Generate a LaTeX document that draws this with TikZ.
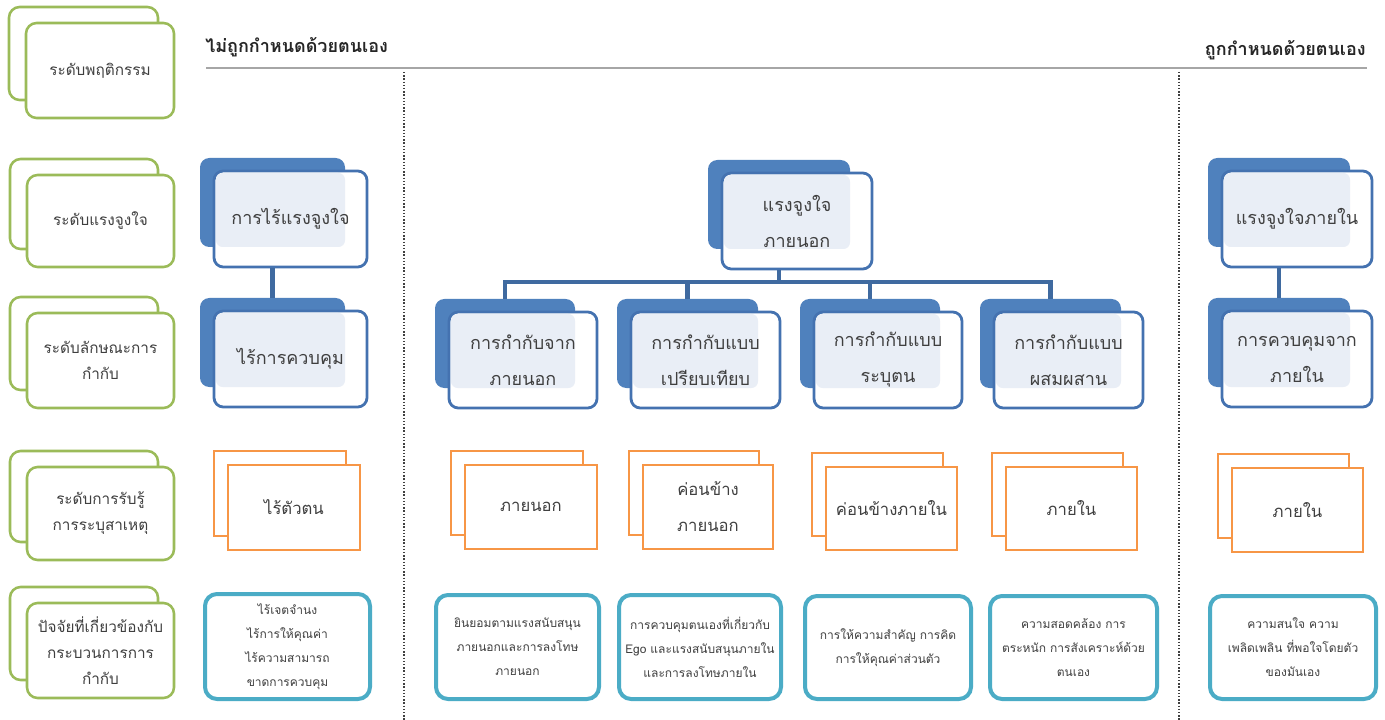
\documentclass[tikz,border=0pt]{standalone}
\usepackage{fontspec}
\newfontfamily\thai[Script=Thai]{Loma}
\usetikzlibrary{fit}
\definecolor{grn}{HTML}{9BBB59}
\definecolor{bdark}{HTML}{4F81BD}
\definecolor{bline}{HTML}{4472B0}
\definecolor{blight}{HTML}{E9EEF6}
\definecolor{conn}{HTML}{3F6AA0}
\definecolor{org}{HTML}{F79646}
\definecolor{teal}{HTML}{4BACC6}
\definecolor{txt}{HTML}{3F3F3F}
\definecolor{hline}{HTML}{A6A6A6}
\tikzset{
  gbox/.style={draw=grn, line width=1.9pt, rounded corners=8pt, fill=white, inner sep=0pt},
  bback/.style={fill=bdark, rounded corners=7pt, inner sep=0pt},
  bfront/.style={draw=bline, line width=2.1pt, rounded corners=7pt, fill=white, inner sep=0pt},
  obox/.style={draw=org, line width=2.1pt, fill=white, inner sep=0pt},
  tbox/.style={draw=teal, line width=3pt, rounded corners=9pt, fill=white, inner sep=0pt},
  gtext/.style={text=txt, align=center, font=\thai\fontsize{11.5}{19.5}\selectfont},
  btext/.style={text=txt, align=center, font=\thai\fontsize{13.5}{27}\selectfont},
  otext/.style={text=txt, align=center, font=\thai\fontsize{12.5}{27}\selectfont},
  ttext/.style={text=txt, align=center, font=\thai\fontsize{9}{18}\selectfont},
  connector/.style={draw=conn, line width=3.2pt},
  divider/.style={draw=black!75, line width=1.2pt, dash pattern=on 1.1pt off 1.3pt},
}
% green label pair: name, x1, y1, x2, y2 (front), text
\newcommand\gpair[6]{%
  \node[gbox, fit={({#2-17},{#3-16}) ({#4-16},{#5-18})}] (#1b) {};
  \node[gbox, fit={(#2,#3) (#4,#5)}] (#1) {};
  \node[gtext] (#1t) at (#1.center) {#6};
}
% blue pair: name, L, R, T, text
\newcommand\bpair[5]{%
  \node[bback, fit={(#2,#4) ({#3-22},{#4+89})}] (#1b) {};
  \node[bfront, fit={({#2+14},{#4+13}) (#3,{#4+109})}] (#1) {};
  \fill[blight, rounded corners=5pt] ({#2+16},{#4+15}) rectangle ({#3-22},{#4+89});
  \node[btext] (#1t) at (#1.center) {#5};
}
% orange pair: name, x1, y1, x2, y2 (front), text
\newcommand\opair[6]{%
  \node[obox, fit={({#2-14},{#3-14}) ({#4-14},{#5-14})}] (#1b) {};
  \node[obox, fit={(#2,#3) (#4,#5)}] (#1) {};
  \node[otext] (#1t) at (#1.center) {#6};
}
% teal box: name, x1, y1, x2, y2, text
\newcommand\tpair[6]{%
  \node[tbox, fit={(#2,#3) (#4,#5)}] (#1) {};
  \node[ttext] (#1t) at (#1.center) {#6};
}
\begin{document}
\begin{tikzpicture}[x=0.75pt,y=-0.75pt]
\useasboundingbox (0,0) rectangle (1385,720);
\fill[white] (0,0) rectangle (1385,720);

% header
\coordinate (hl) at (206,68);
\coordinate (hr) at (1367,68);
\draw[hline, line width=2pt] (hl) -- (hr);
\node[anchor=south west, inner sep=0pt, text=black!85, font=\thai\fontsize{13.5}{16}\selectfont\bfseries] (hleft) at (205,57) {ไม่ถูกกำหนดด้วยตนเอง};
\node[anchor=south east, inner sep=0pt, text=black!85, font=\thai\fontsize{13.5}{16}\selectfont\bfseries] (hright) at (1366,60) {ถูกกำหนดด้วยตนเอง};

% dividers
\coordinate (d1t) at (404,72);
\coordinate (d1b) at (404,720);
\coordinate (d2t) at (1179,72);
\coordinate (d2b) at (1179,720);
\draw[divider] (d1t) -- (d1b);
\draw[divider] (d2t) -- (d2b);

% left labels
\gpair{g1}{26}{23}{174}{118}{ระดับพฤติกรรม}
\gpair{g2}{27}{175}{174}{267}{ระดับแรงจูงใจ}
\gpair{g3}{27}{313}{174}{408}{ระดับลักษณะการ\\กำกับ}
\gpair{g4}{27}{467}{174}{560}{ระดับการรับรู้\\การระบุสาเหตุ}
\gpair{g5}{27}{603}{174}{698}{ปัจจัยที่เกี่ยวข้องกับ\\กระบวนการการ\\กำกับ}

% blue boxes
\bpair{amot}{200}{367}{158}{การไร้แรงจูงใจ}
\bpair{nonreg}{200}{367}{298}{ไร้การควบคุม}
\bpair{ext}{708}{872}{160}{แรงจูงใจ\\ภายนอก}
\bpair{extreg}{435}{597}{299}{การกำกับจาก\\ภายนอก}
\bpair{intro}{617}{780}{299}{การกำกับแบบ\\เปรียบเทียบ}
\bpair{ident}{800}{962}{299}{การกำกับแบบ\\ระบุตน}
\bpair{integ}{980}{1143}{299}{การกำกับแบบ\\ผสมผสาน}
\bpair{intr}{1208}{1372}{158}{แรงจูงใจภายใน}
\bpair{intreg}{1208}{1372}{298}{การควบคุมจาก\\ภายใน}

% connectors
\draw[connector] (amotb.center |- amot.south) -- (nonregb.north);
\draw[connector] (intrb.center |- intr.south) -- (intregb.north);
\coordinate (bus) at (0,282);
\draw[connector] (extb.center |- ext.south) -- (extb.center |- bus);
\draw[connector] (extregb.north) -- (extregb.north |- bus) -- (integb.north |- bus) -- (integb.north);
\draw[connector] (introb.north) -- (introb.north |- bus);
\draw[connector] (identb.north) -- (identb.north |- bus);

% orange boxes
\opair{oA}{228}{465}{360}{550}{ไร้ตัวตน}
\opair{oB}{465}{465}{597}{549}{ภายนอก}
\opair{oC}{643}{465}{773}{549}{ค่อนข้าง\\ภายนอก}
\opair{oD}{826}{467}{957}{550}{ค่อนข้างภายใน}
\opair{oE}{1006}{467}{1137}{550}{ภายใน}
\opair{oF}{1232}{468}{1363}{552}{ภายใน}

% teal boxes
\tpair{tA}{205}{594}{370}{699}{ไร้เจตจำนง\\ไร้การให้คุณค่า\\ไร้ความสามารถ\\ขาดการควบคุม}
\tpair{tB}{436}{595}{599}{699}{ยินยอมตามแรงสนับสนุน\\ภายนอกและการลงโทษ\\ภายนอก}
\tpair{tC}{619}{595}{781}{699}{การควบคุมตนเองที่เกี่ยวกับ\\Ego และแรงสนับสนุนภายใน\\และการลงโทษภายใน}
\tpair{tD}{805}{596}{971}{699}{การให้ความสำคัญ การคิด\\การให้คุณค่าส่วนตัว}
\tpair{tE}{990}{596}{1157}{699}{ความสอดคล้อง การ\\ตระหนัก การสังเคราะห์ด้วย\\ตนเอง}
\tpair{tF}{1210}{596}{1376}{699}{ความสนใจ ความ\\เพลิดเพลิน ที่พอใจโดยตัว\\ของมันเอง}
\end{tikzpicture}
\end{document}
